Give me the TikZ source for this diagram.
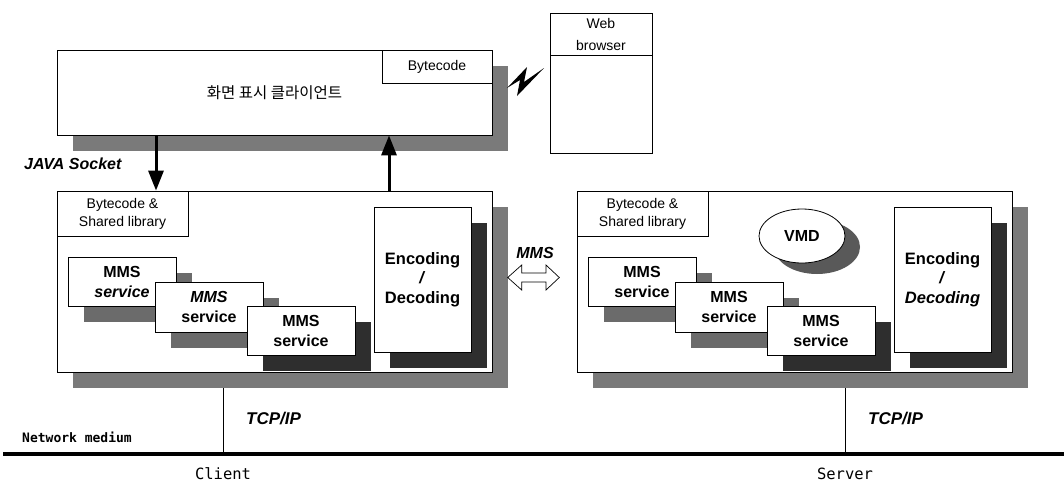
\documentclass[tikz,border=0pt]{standalone}
\usepackage{fontspec}
\setmainfont{Liberation Sans}
\newfontfamily\kor{Noto Sans CJK KR}
\newfontfamily\monof{DejaVu Sans Mono}
\usetikzlibrary{shadows,arrows.meta,shapes.geometric}
\tikzset{
 bx/.style={draw, line width=0.8pt, fill=white, rectangle, inner sep=0pt, align=center},
 shO/.style={drop shadow={shadow xshift=16pt, shadow yshift=-16pt, fill=black!52, opacity=1}},
 shM/.style={drop shadow={shadow xshift=16pt, shadow yshift=-16pt, fill=black!58, opacity=1}},
 shD/.style={drop shadow={shadow xshift=16pt, shadow yshift=-16pt, fill=black!82, opacity=1}},
 mms/.style={bx, minimum width=108pt, minimum height=49pt, font=\bfseries\fontsize{16}{20}\selectfont},
 enc/.style={bx, minimum width=97pt, minimum height=145pt, font=\bfseries\fontsize{16.5}{19.5}\selectfont},
 lib/.style={bx, minimum width=131pt, minimum height=45pt, font=\fontsize{14}{18}\selectfont},
 obox/.style={bx, minimum width=435pt, minimum height=181pt},
 lbl/.style={font=\bfseries\itshape\fontsize{16}{19}\selectfont, inner sep=0pt},
 arr/.style={line width=3pt, -{Triangle[width=15pt,length=20pt]}},
 mono/.style={font=\monof\fontsize{15.5}{18}\selectfont, inner sep=0pt},
}
\begin{document}
\begin{tikzpicture}[x=1pt,y=-1pt]
\useasboundingbox (0,0) rectangle (1064,485);
% top display client
\node[bx, minimum width=435pt, minimum height=85pt, shO, font=\kor\fontsize{15.5}{18}\selectfont] (top) at (274.5,92.5) {화면 표시 클라이언트};
\node[bx, minimum width=110pt, minimum height=33pt, font=\fontsize{14}{17}\selectfont] (tbc) at (437,66.5) {Bytecode};
% web browser
\node[bx, minimum width=102pt, minimum height=140pt] (web) at (601,83) {};
\node[bx, minimum width=102pt, minimum height=42pt, font=\fontsize{14}{22}\selectfont] (webh) at (601,34) {Web\\browser};
% lightning
\fill (507,88) -- (527,67) -- (524,82) -- (544,68) -- (517,96) -- (520,80) -- cycle;
% client
\node[obox, shO] (cl) at (274.5,281.5) {};
\node[lib] (clib) at (122.5,213.5) {Bytecode \&\\Shared library};
\node[mms, shM] (c1) at (122,281.5) {MMS\\\textit{service}};
\node[mms, shM, minimum height=50pt] (c2) at (209,307) {\textit{MMS}\\service};
\node[mms, shD] (c3) at (301,330.5) {MMS\\service};
\node[enc, shD] (cenc) at (422.5,279.5) {Encoding\\\textit{/}\\Decoding};
% server
\node[obox, shO] (sv) at (794.5,281.5) {};
\node[lib] (slib) at (642.5,213.5) {Bytecode \&\\Shared library};
\node[draw, ellipse, fill=white, line width=0.8pt, minimum width=86pt, minimum height=54pt, inner sep=0pt,
  drop shadow={shadow xshift=15pt, shadow yshift=-11pt, fill=black!65, opacity=1},
  font=\bfseries\fontsize{16}{19}\selectfont] (vmd) at (802,236) {VMD};
\node[mms, shM] (s1) at (642,281.5) {MMS\\service};
\node[mms, shM, minimum height=50pt] (s2) at (729,307) {MMS\\service};
\node[mms, shD] (s3) at (821,330.5) {MMS\\service};
\node[enc, shD] (senc) at (942.5,279.5) {Encoding\\\textit{/}\\\textit{Decoding}};
% java socket arrows
\coordinate (dA) at (156,0);
\coordinate (uA) at (389,0);
\draw[arr] (top.south -| dA) -- (cl.north -| dA);
\draw[arr] (cl.north -| uA) -- (top.south -| uA);
\node[lbl, anchor=west] (java) at (24,164) {JAVA Socket};
% MMS double arrow
\node[lbl] (mmsl) at (535,253) {MMS};
\coordinate (mL) at (507.7,277.5);
\draw[line width=0.7pt, fill=white] (mL) -- ++(14,-12.5) -- ++(0,8) -- ++(24.3,0) -- ++(0,-8) -- ++(13.3,12.5) -- ++(-13.3,12.5) -- ++(0,-8) -- ++(-24.3,0) -- ++(0,8) -- cycle;
% network
\coordinate (nL) at (3,454);
\coordinate (nR) at (1064,454);
\draw[line width=4pt] (nL) -- (nR);
\coordinate (cT) at (223,388);
\coordinate (sT) at (845,388);
\draw[line width=1pt] (cT) -- (cT |- nL);
\draw[line width=1pt] (sT) -- (sT |- nL);
\node[lbl, anchor=west, font=\bfseries\itshape\fontsize{17}{19}\selectfont] (tcp1) at (246,419) {TCP/IP};
\node[lbl, anchor=west, font=\bfseries\itshape\fontsize{17}{19}\selectfont] (tcp2) at (868,419) {TCP/IP};
\node[mono, font=\monof\bfseries\fontsize{13}{15}\selectfont, anchor=west] (nm) at (22,437) {Network medium};
\node[mono] (clt) at (223,474) {Client};
\node[mono] (srv) at (845,474) {Server};
\end{tikzpicture}
\end{document}
